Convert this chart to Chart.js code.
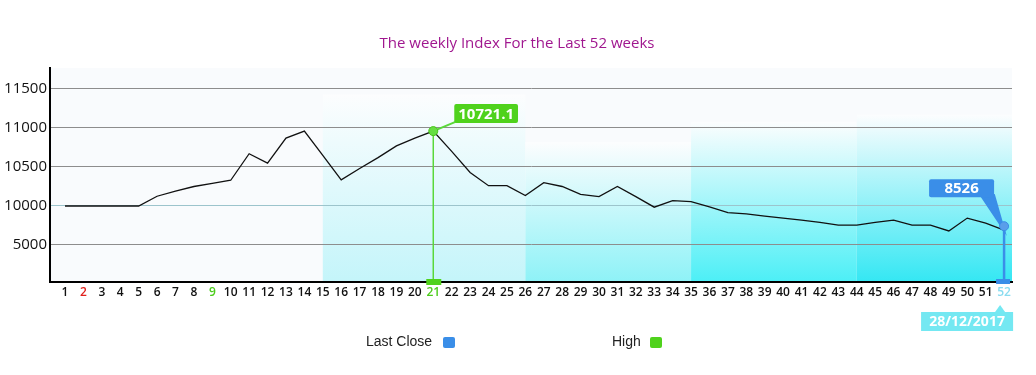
<!DOCTYPE html>
<html><head><meta charset="utf-8">
<script src="https://cdn.jsdelivr.net/npm/chart.js@4/dist/chart.umd.min.js"></script>
<style>html,body{margin:0;padding:0;background:#fff;}#wrap{position:relative;width:1036px;height:375px;}</style>
</head><body><div id="wrap"><canvas id="c" width="1036" height="375"></canvas></div>
<script>
// ---- data ----
const chartTitle = "The weekly Index For the Last 52 weeks";
const weeks = Array.from({length: 52}, (_, i) => i + 1);
const weeklyIndex = [
  10000, 10000, 10000, 10000, 10000,
  10125, 10190, 10250, 10290, 10330,
  10670, 10550, 10870, 10960, 10650,
  10335, 10480, 10620, 10770, 10870,
  10960, 10700, 10430, 10260, 10260,
  10135, 10300, 10250, 10150, 10120,
  10250, 10120, 9985, 10070, 10055,
  9990, 9915, 9900, 9870, 9845,
  9820, 9790, 9755, 9755, 9790,
  9820, 9755, 9755, 9680, 9845,
  9780, 9690
];
const yTickValues = [9500, 10000, 10500, 11000, 11500];
const yTickLabels = ["5000", "10000", "10500", "11000", "11500"];
const highWeek = 21, highLabel = "10721.1";
const lastWeek = 52, lastLabel = "8526", lastDate = "28/12/2017";
const legendLabels = ["Last Close", "High"];
const bandStartWeeks = [15, 26, 35, 44];

// ---- styles ----
const GREEN = '#4fd21c', BLUE = '#3a8ee8', CYAN_BOX = '#74e8f2';
const specialTickColors = {2: '#e0201c', 9: '#4ccc1c', 21: '#4ccc1c', 52: '#8adcf0'};
const bandStyles = [
  {top: 11430, rgb: '196,245,250'},
  {top: 10820, rgb: '142,242,247'},
  {top: 11080, rgb: '76,239,246'},
  {top: 11170, rgb: '52,231,243'}
];
const FONT = '"Open Sans", "Noto Sans", sans-serif';

const bandsPlugin = {
  id: 'bands',
  beforeDraw(chart) {
    const {ctx, chartArea: a, scales: {x, y}} = chart;
    ctx.save();
    ctx.fillStyle = '#f9fbfd';
    ctx.fillRect(a.left, a.top, a.right - a.left, a.bottom - a.top);
    bandStartWeeks.forEach((w, i) => {
      const x0 = x.getPixelForValue(w);
      const x1 = i + 1 < bandStartWeeks.length ? x.getPixelForValue(bandStartWeeks[i + 1]) : a.right;
      const top = y.getPixelForValue(bandStyles[i].top);
      const g = ctx.createLinearGradient(0, top, 0, a.bottom);
      g.addColorStop(0, 'rgb(252,253,254)');
      g.addColorStop(1, 'rgb(' + bandStyles[i].rgb + ')');
      ctx.fillStyle = g;
      ctx.fillRect(x0, top, x1 - x0, a.bottom - top);
    });
    ctx.restore();
  }
};

function roundRect(ctx, x, y, w, h, r) {
  ctx.beginPath();
  ctx.moveTo(x + r, y);
  ctx.lineTo(x + w - r, y); ctx.quadraticCurveTo(x + w, y, x + w, y + r);
  ctx.lineTo(x + w, y + h - r); ctx.quadraticCurveTo(x + w, y + h, x + w - r, y + h);
  ctx.lineTo(x + r, y + h); ctx.quadraticCurveTo(x, y + h, x, y + h - r);
  ctx.lineTo(x, y + r); ctx.quadraticCurveTo(x, y, x + r, y);
  ctx.closePath();
}

const annotPlugin = {
  id: 'annot',
  afterDatasetsDraw(chart) {
    const {ctx, chartArea: a, scales: {x, y}} = chart;
    const bottom = a.bottom;
    ctx.save();
    // High marker
    const hx = x.getPixelForValue(highWeek), hy = y.getPixelForValue(weeklyIndex[highWeek - 1]);
    ctx.strokeStyle = '#5ad83a'; ctx.lineWidth = 1.5;
    ctx.beginPath(); ctx.moveTo(hx, hy); ctx.lineTo(hx, bottom); ctx.stroke();
    ctx.fillStyle = GREEN; ctx.fillRect(hx - 7, bottom - 3, 15, 6);
    ctx.font = 'bold 15px ' + FONT;
    const hw = ctx.measureText(highLabel).width + 8;
    const hbx = hx + 21, hby = hy - 27, hbh = 19;
    ctx.strokeStyle = '#5ad83a'; ctx.lineWidth = 2;
    ctx.beginPath(); ctx.moveTo(hx, hy); ctx.lineTo(hbx + 3, hby + hbh - 2); ctx.stroke();
    ctx.fillStyle = GREEN; roundRect(ctx, hbx, hby, hw, hbh, 2); ctx.fill();
    ctx.fillStyle = '#fff'; ctx.textAlign = 'center'; ctx.textBaseline = 'middle';
    ctx.fillText(highLabel, hbx + hw / 2, hby + hbh / 2 + 1);
    ctx.beginPath(); ctx.arc(hx, hy, 4.5, 0, Math.PI * 2);
    ctx.fillStyle = '#66de42'; ctx.fill(); ctx.strokeStyle = '#48c41a'; ctx.lineWidth = 1; ctx.stroke();

    // Last close marker
    const lx = x.getPixelForValue(lastWeek), ly = y.getPixelForValue(weeklyIndex[lastWeek - 1]);
    ctx.strokeStyle = BLUE; ctx.lineWidth = 2.5;
    ctx.beginPath(); ctx.moveTo(lx, ly); ctx.lineTo(lx, bottom); ctx.stroke();
    ctx.fillStyle = BLUE; ctx.fillRect(lx - 8, bottom - 3, 14, 5);
    const lbw = 65, lbh = 18, lbx = lx - 75, lby = ly - 51;
    ctx.lineWidth = 2;
    ctx.beginPath(); ctx.moveTo(lbx + lbw - 12, lby + lbh); ctx.lineTo(lx, ly); ctx.lineTo(lbx + lbw, lby + lbh - 2); ctx.closePath();
    ctx.fill(); ctx.stroke();
    roundRect(ctx, lbx, lby, lbw, lbh, 2); ctx.fill();
    ctx.fillStyle = '#fff'; ctx.font = 'bold 15px ' + FONT;
    ctx.fillText(lastLabel, lbx + lbw / 2, lby + lbh / 2 + 1);
    ctx.beginPath(); ctx.arc(lx, ly - 4, 4.5, 0, Math.PI * 2);
    ctx.fillStyle = '#5a9eea'; ctx.fill(); ctx.strokeStyle = BLUE; ctx.lineWidth = 1; ctx.stroke();

    // Date box
    const dbx = lx - 83, dby = bottom + 30, dbw = 92, dbh = 19;
    ctx.fillStyle = CYAN_BOX;
    ctx.beginPath(); ctx.moveTo(lx - 4, dby - 7); ctx.lineTo(lx - 9, dby); ctx.lineTo(lx + 1, dby); ctx.closePath(); ctx.fill();
    ctx.fillRect(dbx, dby, dbw, dbh);
    ctx.fillStyle = '#fff'; ctx.font = 'bold 14px ' + FONT;
    ctx.fillText(lastDate, dbx + dbw / 2, dby + dbh / 2 + 1);
    ctx.restore();
  },
  afterDraw(chart) {
    const ctx = chart.ctx;
    ctx.save();
    ctx.font = '15px ' + FONT; ctx.fillStyle = '#a0178f';
    ctx.textAlign = 'center'; ctx.textBaseline = 'middle';
    ctx.fillText(chartTitle, 517, 44);
    ctx.font = '14px "Liberation Sans", Arial, sans-serif'; ctx.fillStyle = '#222';
    ctx.textAlign = 'left';
    ctx.fillText(legendLabels[0], 366, 342);
    ctx.fillStyle = BLUE; roundRect(ctx, 443, 337, 12, 11, 2); ctx.fill();
    ctx.fillStyle = '#222';
    ctx.fillText(legendLabels[1], 612, 342);
    ctx.fillStyle = GREEN; roundRect(ctx, 650, 337, 12, 11, 2); ctx.fill();
    ctx.restore();
  }
};

function build() {
  new Chart(document.getElementById('c'), {
    type: 'line',
    data: {
      datasets: [{
        data: weeks.map((w, i) => ({x: w, y: weeklyIndex[i]})),
        borderColor: '#111', borderWidth: 1.3, pointRadius: 0, tension: 0, fill: false
      }]
    },
    options: {
      responsive: false, animation: false,
      layout: {padding: {top: 68, right: 24, bottom: 0, left: 0}},
      plugins: {legend: {display: false}, tooltip: {enabled: false}, title: {display: false}},
      scales: {
        x: {
          type: 'linear', min: 0.185, max: 52.43,
          afterBuildTicks: s => { s.ticks = weeks.map(v => ({value: v})); },
          afterFit: s => { s.height = 93; },
          grid: {display: false, drawTicks: false},
          border: {color: '#000', width: 2},
          ticks: {
            autoSkip: false, maxRotation: 0, padding: 3,
            font: {family: FONT, size: 12, weight: '600'},
            color: c => specialTickColors[c.tick && c.tick.value] || '#111',
            callback: v => String(v)
          }
        },
        y: {
          min: 9025.6, max: 11769.2,
          afterBuildTicks: s => { s.ticks = yTickValues.map(v => ({value: v})); },
          afterFit: s => { s.width = 50; },
          grid: {color: c => c.tick && c.tick.value === 10000 ? '#9cc4cc' : '#8d8d8d', lineWidth: 1, drawTicks: false},
          border: {color: '#000', width: 2},
          ticks: {
            padding: 3, color: '#111',
            font: {family: FONT, size: 15},
            callback: v => yTickLabels[yTickValues.indexOf(v)]
          }
        }
      }
    },
    plugins: [bandsPlugin, annotPlugin]
  });
}
Promise.all([
  document.fonts.load('15px "Open Sans"'),
  document.fonts.load('600 12px "Open Sans"'),
  document.fonts.load('bold 15px "Open Sans"'),
  document.fonts.load('14px "Liberation Sans"')
]).then(build, build);
</script>
</body></html>
